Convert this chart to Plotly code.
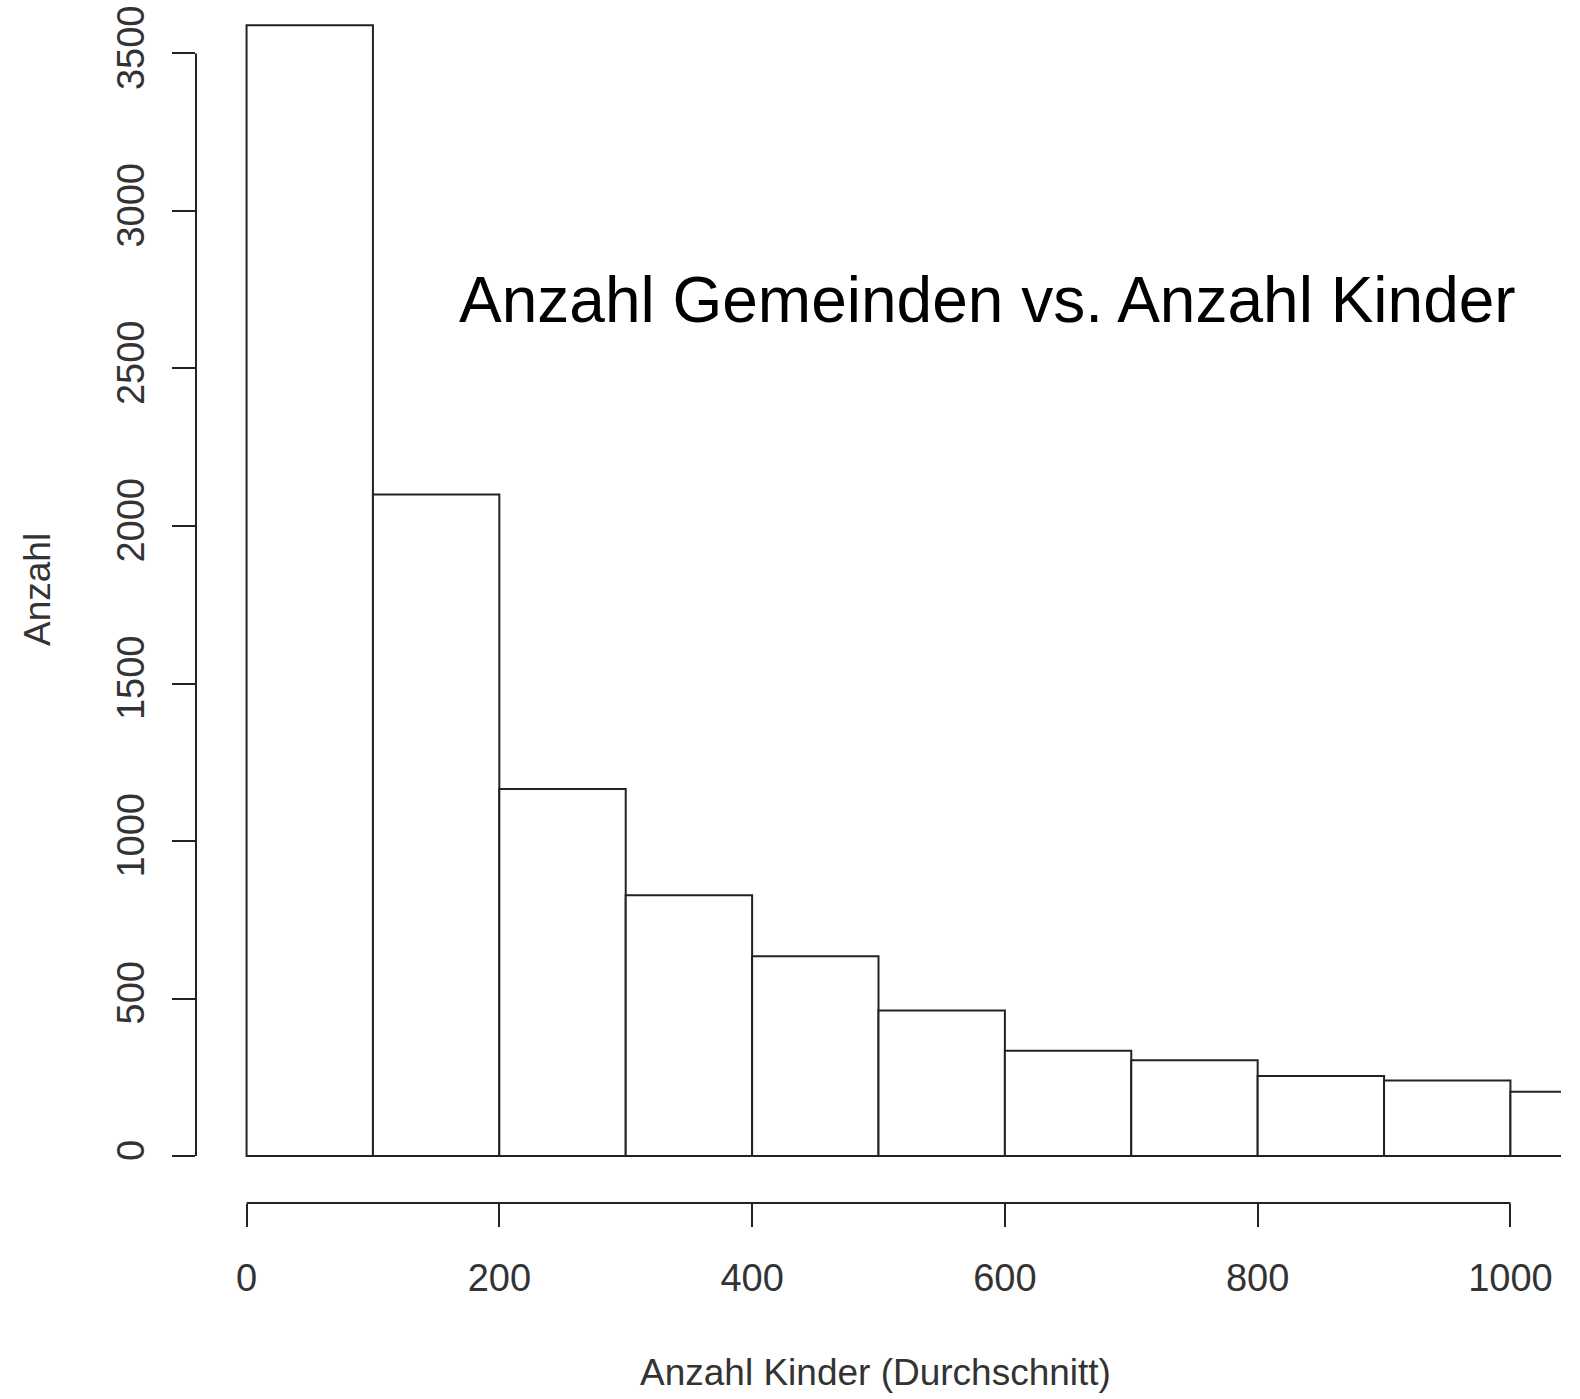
import plotly.graph_objects as go

# Data (histogram bins of width 100)
bin_starts = [0, 100, 200, 300, 400, 500, 600, 700, 800, 900, 1000]
counts = [3590, 2100, 1165, 828, 634, 462, 334, 304, 254, 240, 204]
bin_width = 100
x_ticks = [0, 200, 400, 600, 800, 1000]
y_ticks = [0, 500, 1000, 1500, 2000, 2500, 3000, 3500]

title_text = "Anzahl Gemeinden vs. Anzahl Kinder"
x_title = "Anzahl Kinder (Durchschnitt)"
y_title = "Anzahl"

W, H = 1580, 1399
L, R, T, B = 196, 19, 0, 196
pw = W - L - R
ph = H - T - B

def px_x(p):
    return (p - L) / pw

def px_y(p):
    return (H - B - p) / ph

line_col = "#222222"
text_col = "#333333"
font_fam = "Liberation Sans, Arial, sans-serif"

centers = [s + bin_width / 2 for s in bin_starts]

fig = go.Figure(go.Bar(
    x=centers, y=counts, width=[bin_width] * len(counts),
    marker=dict(color="white", line=dict(color=line_col, width=2)),
    hoverinfo="skip",
))

fig.update_layout(
    width=W, height=H,
    margin=dict(l=L, r=R, t=T, b=B, pad=0, autoexpand=False),
    paper_bgcolor="white", plot_bgcolor="white",
    showlegend=False,
    xaxis=dict(
        range=[-40, 1040], tickmode="array", tickvals=x_ticks,
        ticktext=[str(v) for v in x_ticks],
        ticks="outside", ticklen=23, tickwidth=2, tickcolor=line_col,
        showgrid=False, zeroline=False, showline=False, automargin=False,
        tickfont=dict(family=font_fam, size=38, color=text_col),
        ticklabelstandoff=18,
    ),
    yaxis=dict(
        range=[-149.2, 3669.8], tickmode="array", tickvals=y_ticks,
        ticktext=[str(v) for v in y_ticks],
        ticks="outside", ticklen=23, tickwidth=2, tickcolor=line_col,
        showgrid=False, zeroline=False, showline=False, automargin=False,
        tickangle=-90,
        tickfont=dict(family=font_fam, size=38, color=text_col),
        ticklabelstandoff=13,
    ),
    shapes=[
        dict(type="line", xref="x", yref="paper", x0=x_ticks[0], x1=x_ticks[-1], y0=0, y1=0,
             line=dict(color=line_col, width=2)),
        dict(type="line", xref="paper", yref="y", x0=0, x1=0, y0=y_ticks[0], y1=y_ticks[-1],
             line=dict(color=line_col, width=2)),
    ],
    annotations=[
        dict(text=title_text, xref="paper", yref="paper", x=px_x(457), y=px_y(300),
             xanchor="left", yanchor="middle", showarrow=False,
             font=dict(family=font_fam, size=64, color="black")),
        dict(text=x_title, xref="paper", yref="paper", x=px_x(875), y=px_y(1372),
             xanchor="center", yanchor="middle", showarrow=False,
             font=dict(family=font_fam, size=37, color=text_col)),
        dict(text=y_title, xref="paper", yref="paper", x=px_x(37), y=px_y(590),
             xanchor="center", yanchor="middle", showarrow=False, textangle=-90,
             font=dict(family=font_fam, size=37, color=text_col)),
    ],
)

fig.write_html(
    "out.html",
    config={"displayModeBar": False, "staticPlot": True},
    post_script="document.body.style.margin='0';document.body.style.overflow='hidden';",
)
